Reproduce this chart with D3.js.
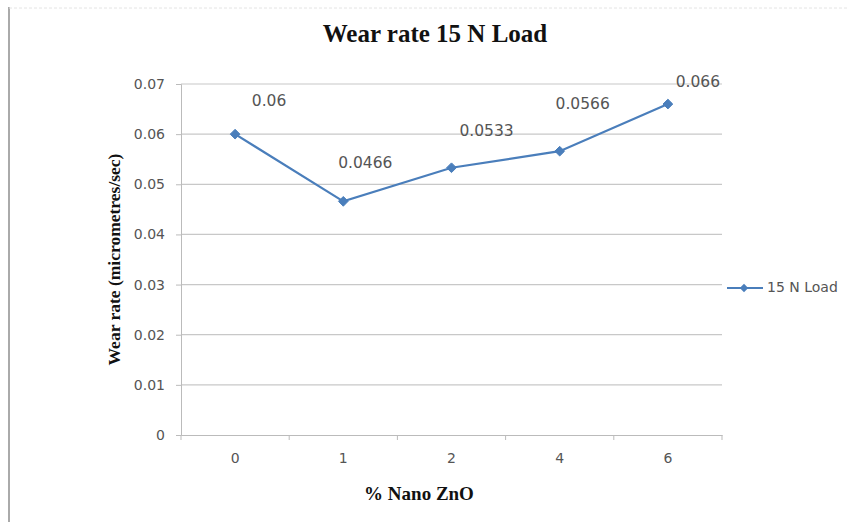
<!DOCTYPE html>
<html>
<head>
<meta charset="utf-8">
<script src="https://cdn.jsdelivr.net/npm/d3@7"></script>
<style>
  html, body { margin: 0; padding: 0; background: #fff; }
  svg { display: block; }
</style>
</head>
<body>
<svg id="chart" width="848" height="522"></svg>
<script>
// Wear rate at 15 N load against nano ZnO content
const categories = ["0", "1", "2", "4", "6"];
const wearRate = [0.06, 0.0466, 0.0533, 0.0566, 0.066];
const valueLabels = ["0.06", "0.0466", "0.0533", "0.0566", "0.066"];
const yTicks = [0, 0.01, 0.02, 0.03, 0.04, 0.05, 0.06, 0.07];
const seriesName = "15 N Load";

// label placement relative to each point (layout, not data)
const labelOffsets = [[34, -33], [22, -38], [35, -36], [23, -47], [30, -22]];

const svg = d3.select("#chart");
const margin = { left: 181, right: 126, top: 84, bottom: 87 };
const W = 848, H = 522;
const lineColor = "#4a7ebb";
const sans = "'DejaVu Sans', Verdana, sans-serif";
const serif = "'Liberation Serif', 'DejaVu Serif', serif";

// outer frame
svg.append("line").attr("x1", 9).attr("x2", 9).attr("y1", 7).attr("y2", H)
  .attr("stroke", "#aaa").attr("stroke-width", 2);
svg.append("line").attr("x1", 9).attr("x2", W).attr("y1", 8).attr("y2", 8)
  .attr("stroke", "#e4e4e4").attr("stroke-width", 1).attr("stroke-dasharray", "3,2");

const x = d3.scaleBand().domain(categories).range([margin.left, W - margin.right]);
const y = d3.scaleLinear().domain([0, 0.07]).range([H - margin.bottom, margin.top]);

// horizontal gridlines
svg.append("g").selectAll("line").data(yTicks.filter(d => d > 0)).join("line")
  .attr("x1", margin.left).attr("x2", W - margin.right)
  .attr("y1", d => y(d)).attr("y2", d => y(d))
  .attr("stroke", "#c8c8c8").attr("stroke-width", 1.2);

// y axis
const yAxis = svg.append("g").attr("transform", `translate(${margin.left},0)`)
  .call(d3.axisLeft(y).tickValues(yTicks).tickSize(5).tickPadding(11)
    .tickFormat(d => d === 0 ? "0" : d3.format(".2f")(d)));
yAxis.select(".domain").attr("stroke", "#bbb");
yAxis.selectAll(".tick line").attr("stroke", "#bbb");
yAxis.selectAll("text").attr("fill", "#555").style("font-family", sans).style("font-size", "14px");

// x axis
const xAxis = svg.append("g").attr("transform", `translate(0,${y(0)})`)
  .call(d3.axisBottom(x).tickSize(0).tickPadding(18));
xAxis.select(".domain").attr("stroke", "#bbb");
xAxis.selectAll("text").attr("fill", "#555").style("font-family", sans).style("font-size", "14px");
// category boundary ticks
const bounds = categories.map(c => x(c)).concat([x(categories[categories.length - 1]) + x.bandwidth()]);
svg.append("g").selectAll("line").data(bounds).join("line")
  .attr("x1", d => d).attr("x2", d => d)
  .attr("y1", y(0)).attr("y2", y(0) + 5)
  .attr("stroke", "#bbb");

const cx = d => x(d) + x.bandwidth() / 2;
const pts = categories.map((c, i) => ({ c, v: wearRate[i], label: valueLabels[i], off: labelOffsets[i] }));

// series line
svg.append("path").datum(pts)
  .attr("d", d3.line().x(d => cx(d.c)).y(d => y(d.v)))
  .attr("fill", "none").attr("stroke", lineColor).attr("stroke-width", 2.2);

// diamond markers
const diamond = d3.symbol().type(d3.symbolDiamond2).size(60);
svg.append("g").selectAll("path").data(pts).join("path")
  .attr("d", diamond)
  .attr("transform", d => `translate(${cx(d.c)},${y(d.v)})`)
  .attr("fill", lineColor).attr("stroke", lineColor);

// data labels
svg.append("g").selectAll("text").data(pts).join("text")
  .attr("x", d => cx(d.c) + d.off[0]).attr("y", d => y(d.v) + d.off[1])
  .attr("text-anchor", "middle").attr("dominant-baseline", "middle")
  .attr("fill", "#555")
  .style("font-family", sans).style("font-size", "15.5px")
  .text(d => d.label);

// title and axis titles
svg.append("text").attr("x", 435).attr("y", 42).attr("text-anchor", "middle")
  .style("font-family", serif).style("font-weight", "bold").style("font-size", "25px")
  .attr("fill", "#111").text("Wear rate 15 N Load");
svg.append("text").attr("transform", `translate(120,${(margin.top + H - margin.bottom) / 2}) rotate(-90)`)
  .attr("text-anchor", "middle")
  .style("font-family", serif).style("font-weight", "bold").style("font-size", "17.5px")
  .attr("fill", "#111").text("Wear rate (micrometres/sec)");
svg.append("text").attr("x", 419).attr("y", 500).attr("text-anchor", "middle")
  .style("font-family", serif).style("font-weight", "bold").style("font-size", "19px")
  .attr("fill", "#111").text("% Nano ZnO");

// legend
const lg = svg.append("g").attr("transform", "translate(727,288)");
lg.append("line").attr("x1", 0).attr("x2", 36).attr("stroke", lineColor).attr("stroke-width", 2.2);
lg.append("path").attr("d", d3.symbol().type(d3.symbolDiamond2).size(45)).attr("transform", "translate(17,0)")
  .attr("fill", lineColor);
lg.append("text").attr("x", 40).attr("y", 0).attr("dominant-baseline", "middle")
  .attr("fill", "#555")
  .style("font-family", sans).style("font-size", "14px")
  .text(seriesName);
</script>
</body>
</html>
